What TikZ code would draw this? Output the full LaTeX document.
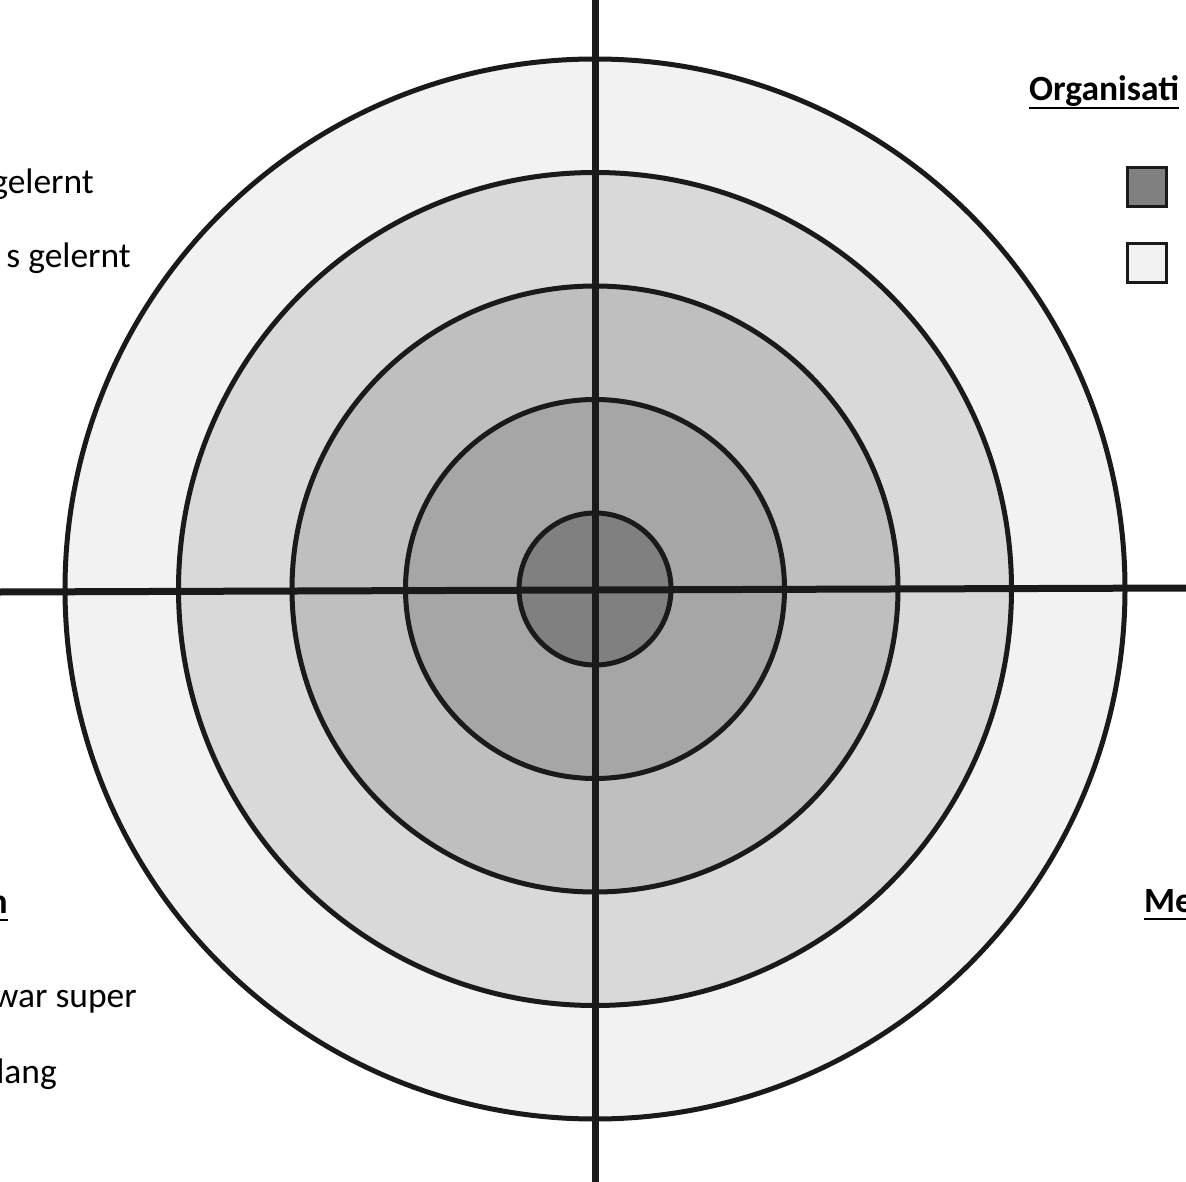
\documentclass[tikz,border=0pt]{standalone}
\usepackage{fontspec}
\setmainfont{Carlito}
\definecolor{ringA}{HTML}{F2F2F2}
\definecolor{ringB}{HTML}{D9D9D9}
\definecolor{ringC}{HTML}{BFBFBF}
\definecolor{ringD}{HTML}{A6A6A6}
\definecolor{ringE}{HTML}{808080}
\definecolor{ink}{HTML}{1A1A1A}
\tikzset{
  ring/.style={circle, draw=ink, line width=5pt, inner sep=0pt, outer sep=0pt},
  axisline/.style={draw=ink, line width=7pt, line cap=butt},
  txt/.style={font=\fontsize{35.5}{42}\selectfont, inner sep=0pt, text=black},
  ttl/.style={font=\fontsize{35.5}{42}\selectfont\bfseries, inner sep=0pt, text=black},
  uline/.style={draw=black, line width=2.8pt},
  legendbox/.style={draw=ink, line width=3pt, minimum size=39pt, inner sep=0pt},
}
\begin{document}
\begin{tikzpicture}[x=1pt,y=-1pt]
\useasboundingbox (0,0) rectangle (1186,1182);
\clip (0,0) rectangle (1186,1182);
\fill[white] (0,0) rectangle (1186,1182);
% target rings
\node[ring, fill=ringA, minimum size=1060pt] (r1) at (595,589) {};
\node[ring, fill=ringB, minimum size=833pt] (r2) at (595,589) {};
\node[ring, fill=ringC, minimum size=606pt] (r3) at (595,589) {};
\node[ring, fill=ringD, minimum size=379pt] (r4) at (595,589) {};
\node[ring, fill=ringE, minimum size=152pt] (r5) at (595,589) {};
% axes
\coordinate (vt) at (595,0);
\coordinate (vb) at (595,1182);
\coordinate (hl) at (0,592);
\coordinate (hr) at (1186,588);
\draw[axisline] (vt) -- (vb);
\draw[axisline] (hl) -- (hr);
% left texts
\node[txt, anchor=base east] (t1) at (94,194) {gelernt};
\node[txt, anchor=base east] (t2) at (131,268) {s gelernt};
\node[ttl, anchor=base east] (t3) at (8,913) {n};
\draw[uline] ([yshift=-7pt]t3.base west) -- ([yshift=-7pt]t3.base east);
\node[txt, anchor=base east] (t4) at (137,1007) {war super};
\node[txt, anchor=base east] (t5) at (57,1083) {lang};
% right texts
\node[ttl, anchor=base west] (t6) at (1029,101) {Organisati};
\draw[uline] ([yshift=-7pt]t6.base west) -- ([yshift=-7pt]t6.base east);
\node[ttl, anchor=base west] (t7) at (1144,912) {Me};
\draw[uline] ([yshift=-7pt]t7.base west) -- ([yshift=-7pt]t7.base east);
% legend boxes
\node[legendbox, fill=ringE] (l1) at (1146.5,187.5) {};
\node[legendbox, fill=ringA] (l2) at (1146.5,263.5) {};
\end{tikzpicture}
\end{document}
